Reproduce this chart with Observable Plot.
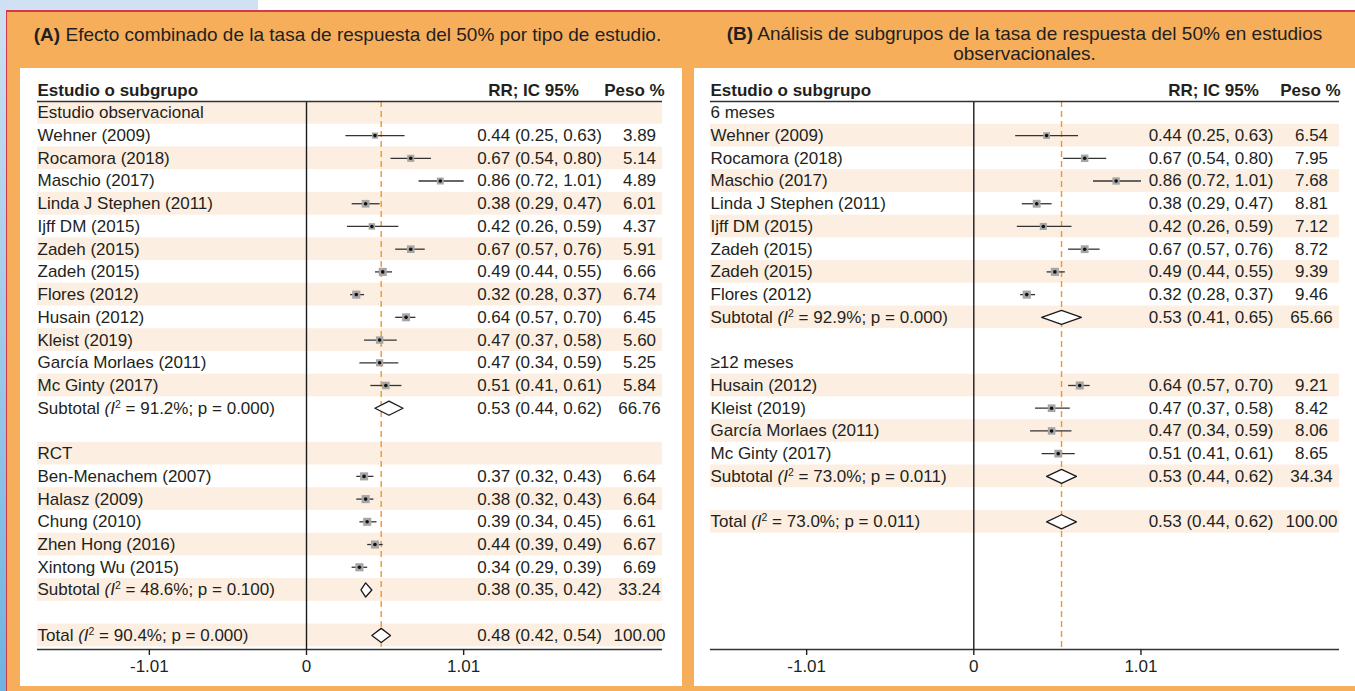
<!DOCTYPE html>
<html><head><meta charset="utf-8">
<script src="https://cdn.jsdelivr.net/npm/d3@7"></script>
<script src="https://cdn.jsdelivr.net/npm/@observablehq/plot@0.6"></script>
<style>
html,body{margin:0;padding:0;}
body{width:1355px;height:691px;position:relative;overflow:hidden;background:#fff;font-family:"Liberation Sans",Arial,sans-serif;color:#231f20;}
.abs{position:absolute;}
.title{font-size:19px;line-height:20px;text-align:center;}
svg{overflow:visible;}
</style></head><body>
<div class="abs" style="left:0;top:0;width:258px;height:11px;background:#cfe1f2"></div>
<div class="abs" style="left:0;top:0;width:7px;height:691px;background:linear-gradient(#cfe1f2,#6db3e0)"></div>
<div class="abs" style="left:6px;top:10px;width:1349px;height:681px;background:#f6ae5b;border-top:2px solid #d2394b;border-left:1.5px solid #d2394b;box-sizing:border-box"></div>
<div class="abs title" id="titleA" style="left:7px;top:25px;width:681px"></div>
<div class="abs title" id="titleB" style="left:694px;top:24px;width:661px"></div>
<div class="abs" id="panelA" style="left:20px;top:68px;width:662px;height:618px;background:#fff"></div>
<div class="abs" id="panelB" style="left:694px;top:68px;width:661px;height:618px;background:#fff"></div>
<script>
// ---------- Data ----------
const titleA = ["(A)", " Efecto combinado de la tasa de respuesta del 50% por tipo de estudio."];
const titleB = ["(B)", " Análisis de subgrupos de la tasa de respuesta del 50% en estudios", "observacionales."];
const headers = ["Estudio o subgrupo", "RR; IC 95%", "Peso %"];
const xTicks = [-1.01, 0, 1.01];

const labelsA = ["Estudio observacional", "Wehner (2009)", "Rocamora (2018)", "Maschio (2017)", "Linda J Stephen (2011)", "Ijff DM (2015)", "Zadeh (2015)", "Zadeh (2015)", "Flores (2012)", "Husain (2012)", "Kleist (2019)", "García Morlaes (2011)", "Mc Ginty (2017)", "Subtotal (I² = 91.2%; p = 0.000)", "", "RCT", "Ben-Menachem (2007)", "Halasz (2009)", "Chung (2010)", "Zhen Hong (2016)", "Xintong Wu (2015)", "Subtotal (I² = 48.6%; p = 0.100)", "", "Total (I² = 90.4%; p = 0.000)"];
const rrA = [null, 0.44, 0.67, 0.86, 0.38, 0.42, 0.67, 0.49, 0.32, 0.64, 0.47, 0.47, 0.51, 0.53, null, null, 0.37, 0.38, 0.39, 0.44, 0.34, 0.38, null, 0.48];
const loA = [null, 0.25, 0.54, 0.72, 0.29, 0.26, 0.57, 0.44, 0.28, 0.57, 0.37, 0.34, 0.41, 0.44, null, null, 0.32, 0.32, 0.34, 0.39, 0.29, 0.35, null, 0.42];
const hiA = [null, 0.63, 0.80, 1.01, 0.47, 0.59, 0.76, 0.55, 0.37, 0.70, 0.58, 0.59, 0.61, 0.62, null, null, 0.43, 0.43, 0.45, 0.49, 0.39, 0.42, null, 0.54];
const wA  = [null, 3.89, 5.14, 4.89, 6.01, 4.37, 5.91, 6.66, 6.74, 6.45, 5.60, 5.25, 5.84, 66.76, null, null, 6.64, 6.64, 6.61, 6.67, 6.69, 33.24, null, 100.00];

const labelsB = ["6 meses", "Wehner (2009)", "Rocamora (2018)", "Maschio (2017)", "Linda J Stephen (2011)", "Ijff DM (2015)", "Zadeh (2015)", "Zadeh (2015)", "Flores (2012)", "Subtotal (I² = 92.9%; p = 0.000)", "", "≥12 meses", "Husain (2012)", "Kleist (2019)", "García Morlaes (2011)", "Mc Ginty (2017)", "Subtotal (I² = 73.0%; p = 0.011)", "", "Total (I² = 73.0%; p = 0.011)"];
const rrB = [null, 0.44, 0.67, 0.86, 0.38, 0.42, 0.67, 0.49, 0.32, 0.53, null, null, 0.64, 0.47, 0.47, 0.51, 0.53, null, 0.53];
const loB = [null, 0.25, 0.54, 0.72, 0.29, 0.26, 0.57, 0.44, 0.28, 0.41, null, null, 0.57, 0.37, 0.34, 0.41, 0.44, null, 0.44];
const hiB = [null, 0.63, 0.80, 1.01, 0.47, 0.59, 0.76, 0.55, 0.37, 0.65, null, null, 0.70, 0.58, 0.59, 0.61, 0.62, null, 0.62];
const wB  = [null, 6.54, 7.95, 7.68, 8.81, 7.12, 8.72, 9.39, 9.46, 65.66, null, null, 9.21, 8.42, 8.06, 8.65, 34.34, null, 100.00];

// ---------- Build ----------
function buildRows(labels, rr, lo, hi, w, phase) {
  let c = 0;
  return labels.map((label, i) => {
    const kind = label === "" ? "blank" : label.startsWith("Subtotal") ? "sub" : label.startsWith("Total") ? "tot" : rr[i] == null ? "head" : "study";
    let shaded = false;
    if (kind === "blank") c = 0;
    else { shaded = (c % 2 === phase) || kind === "tot"; c++; }
    return {i, label, kind, rr: rr[i], lo: lo[i], hi: hi[i], w: w[i], shaded};
  });
}

const font = '"Liberation Sans", Arial, sans-serif';
const ink = "#231f20";

function forest(rows, o) {
  const studies = rows.filter(d => d.kind === "study");
  const pooled = rows.filter(d => d.kind === "sub" || d.kind === "tot");
  const num = rows.filter(d => d.rr != null);
  const overall = rows.find(d => d.kind === "tot").rr;
  const h = 0.31;
  const diamonds = pooled.flatMap(d => [[d.lo, d.i], [d.rr, d.i - h], [d.hi, d.i], [d.rr, d.i + h], [d.lo, d.i]].map(([x, y]) => ({x, y, id: d.i})));
  const yBottom = 23.62;
  return Plot.plot({
    width: o.width, height: 618,
    marginLeft: o.ml, marginRight: o.mr, marginTop: 33, marginBottom: 37,
    x: {domain: o.domain, axis: null},
    y: {domain: [-0.5, yBottom], reverse: true, axis: null},
    r: {domain: [0, d3.max(studies, d => d.w)], range: [0, 4.6]},
    style: {fontSize: "17px", fontFamily: font, background: "transparent", color: ink, overflow: "visible"},
    marks: [
      Plot.rect(rows.filter(d => d.shaded), {y1: d => d.i - 0.5, y2: d => d.i + 0.5, fill: "#fcefe2"}),
      Plot.ruleX([0], {stroke: "#1a1a1a", strokeWidth: 1.4}),
      Plot.ruleX([overall], {stroke: "#f0962c", strokeWidth: 1.4, strokeDasharray: "6,4"}),
      Plot.link(studies, {x1: "lo", x2: "hi", y1: "i", y2: "i", stroke: "#333", strokeWidth: 1.3}),
      Plot.dot(studies, {x: "rr", y: "i", r: "w", symbol: "square", fill: "#a5a5a5", stroke: "none"}),
      Plot.dot(studies, {x: "rr", y: "i", r: 1.8, fill: "#111", stroke: "none"}),
      Plot.line(diamonds, {x: "x", y: "y", z: "id", fill: "white", stroke: "#1a1a1a", strokeWidth: 1.3}),
      Plot.ruleY([-0.5], {stroke: "#333", strokeWidth: 1.7}),
      Plot.ruleY([yBottom], {stroke: "#333", strokeWidth: 1.7}),
      Plot.axisX(xTicks, {tickFormat: d => String(d), tickSize: 6, tickPadding: 4, label: null, strokeWidth: 1.4, fontSize: 17, fill: ink}),
      Plot.text(rows.filter(d => d.label), {y: "i", text: "label", frameAnchor: "left", textAnchor: "start", fill: ink}),
      Plot.text(num, {y: "i", text: d => `${d.rr.toFixed(2)} (${d.lo.toFixed(2)}, ${d.hi.toFixed(2)})`, frameAnchor: "right", dx: o.rrdx, textAnchor: "middle", fill: ink}),
      Plot.text(num, {y: "i", text: d => d.w.toFixed(2), frameAnchor: "right", dx: o.wdx, textAnchor: "middle", fill: ink}),
      Plot.text([{t: headers[0], y: -1}], {y: "y", text: "t", frameAnchor: "left", textAnchor: "start", fontWeight: "bold", fill: ink}),
      Plot.text([{t: headers[1], y: -1}], {y: "y", text: "t", frameAnchor: "right", dx: o.rrhdx, textAnchor: "middle", fontWeight: "bold", fill: ink}),
      Plot.text([{t: headers[2], y: -1}], {y: "y", text: "t", frameAnchor: "right", dx: o.whdx, textAnchor: "middle", fontWeight: "bold", fill: ink})
    ]
  });
}

function styleIsq(svg) {
  const ns = "http://www.w3.org/2000/svg";
  svg.querySelectorAll("text").forEach(t => {
    const m = t.textContent.match(/^(.*?)\(I²(.*)$/);
    if (!m) return;
    t.textContent = "";
    t.appendChild(document.createTextNode(m[1]));
    const it = document.createElementNS(ns, "tspan"); it.setAttribute("font-style", "italic"); it.textContent = "(I"; t.appendChild(it);
    const sup = document.createElementNS(ns, "tspan"); sup.setAttribute("font-size", "10.5"); sup.setAttribute("dy", "-6"); sup.textContent = "2"; t.appendChild(sup);
    const rest = document.createElementNS(ns, "tspan"); rest.setAttribute("dy", "6"); rest.textContent = m[2]; t.appendChild(rest);
  });
}

const rowsA = buildRows(labelsA, rrA, loA, hiA, wA, 0);
const rowsB = buildRows(labelsB, rrB, loB, hiB, wB, 1);

const svgA = forest(rowsA, {width: 662, ml: 17, mr: 20, domain: [-1.7288, 2.2879], rrdx: -123, wdx: -23, rrhdx: -129, whdx: -28});
const svgB = forest(rowsB, {width: 661, ml: 16, mr: 16, domain: [-1.591, 2.2097], rrdx: -128.5, wdx: -28, rrhdx: -126, whdx: -29});
styleIsq(svgA); styleIsq(svgB);
document.getElementById("panelA").appendChild(svgA);
document.getElementById("panelB").appendChild(svgB);

document.getElementById("titleA").innerHTML = `<b>${titleA[0]}</b>${titleA[1]}`;
document.getElementById("titleB").innerHTML = `<b>${titleB[0]}</b>${titleB[1]}<br>${titleB[2]}`;
</script>
</body></html>
